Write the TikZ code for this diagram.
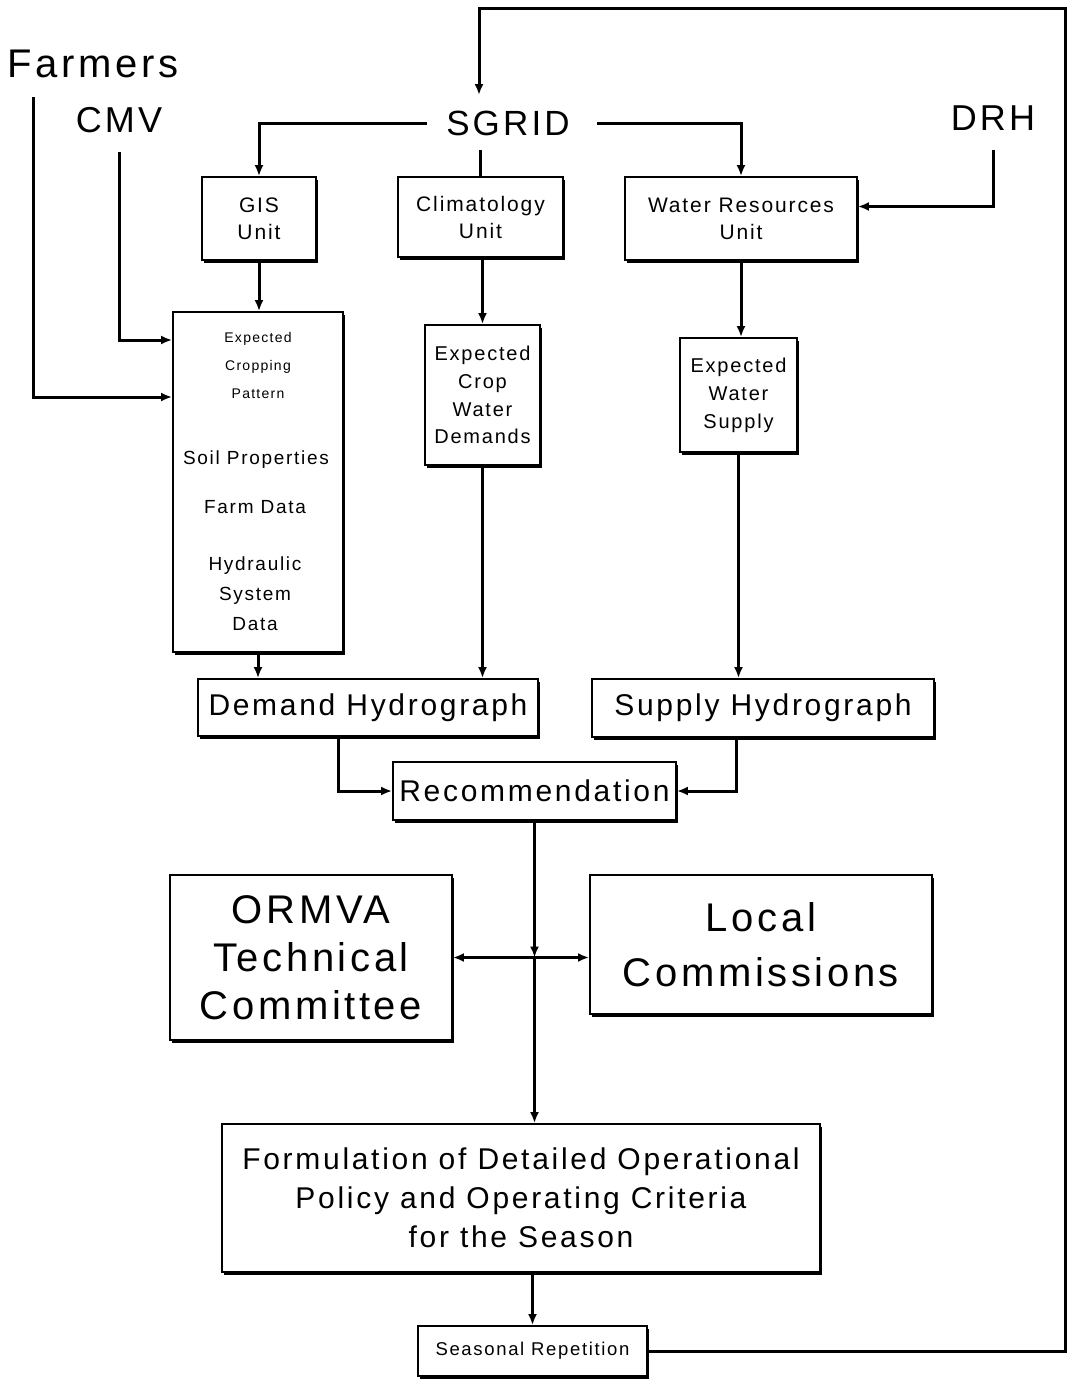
\documentclass[tikz,border=0pt]{standalone}
\usepackage{fontspec}
\setmainfont{Liberation Sans}[LetterSpace=9]
\usetikzlibrary{arrows.meta,shadows,calc}
\tikzset{
  box/.style={draw, line width=1.8pt, fill=white, inner sep=0pt, align=center,
    drop shadow={shadow xshift=2pt, shadow yshift=-2.5pt, opacity=1, fill=black}},
  arr/.style={line width=3pt, -{Latex[length=11pt,width=9pt]}},
  ln/.style={line width=3pt},
  lbl/.style={inner sep=0pt, anchor=base},
  txt/.style={inner sep=0pt, align=center},
}
\newcommand{\fs}[2]{\fontsize{#1}{#2}\selectfont}
\begin{document}
\begin{tikzpicture}[x=1pt,y=-1pt]
\useasboundingbox (0,0) rectangle (1069,1379);
% free labels
\node[lbl, font=\fs{40}{48}] (farmers) at (93,77) {Farmers};
\node[lbl, font=\fs{36}{44}] (cmv) at (119,132) {CMV};
\node[lbl, font=\fs{35}{44}] (sgrid) at (508,135) {SGRID};
\node[lbl, font=\fs{36}{44}] (drh) at (993,130) {DRH};
% boxes
\node[box, minimum width=114pt, minimum height=83pt, font=\fs{21}{27}] (gis) at (259,218.5) {GIS\\Unit};
\node[box, minimum width=165pt, minimum height=80pt, font=\fs{21}{27}] (clim) at (480.5,217) {Climatology\\Unit};
\node[box, minimum width=232pt, minimum height=83pt, font=\fs{21}{27}] (wru) at (741,218.5) {Water Resources\\Unit};
\node[box, minimum width=170pt, minimum height=340pt] (ecp) at (258,482) {};
\node[txt, font=\fs{14}{28}] (ecpt) at (258,365) {Expected\\Cropping\\Pattern};
\node[txt, font=\fs{19}{24}] (soil) at (256,460) {Soil Properties};
\node[txt, font=\fs{19}{24}] (farm) at (255,507) {Farm Data};
\node[txt, font=\fs{19}{30}] (hyd) at (255,594) {Hydraulic\\System\\Data};
\node[box, minimum width=115pt, minimum height=140pt, font=\fs{20}{27.7}] (ecwd) at (482.5,395) {Expected\\Crop\\Water\\Demands};
\node[box, minimum width=117pt, minimum height=114pt, font=\fs{20}{28}] (ews) at (738.5,395) {Expected\\Water\\Supply};
\node[box, minimum width=340pt, minimum height=57pt, font=\fs{30}{36}] (dh) at (368,707.5) {Demand Hydrograph};
\node[box, minimum width=342pt, minimum height=58pt, font=\fs{30}{36}] (sh) at (763,708) {Supply Hydrograph};
\node[box, minimum width=283pt, minimum height=58pt, font=\fs{30}{36}] (rec) at (534.5,791) {Recommendation};
\node[box, minimum width=282pt, minimum height=165pt, font=\fs{40}{48}] (ormva) at (311,957.5) {ORMVA\\Technical\\Committee};
\node[box, minimum width=342pt, minimum height=139pt, font=\fs{40}{55}] (local) at (761,944.5) {Local\\Commissions};
\node[box, minimum width=598pt, minimum height=148pt, font=\fs{30}{39}] (form) at (521,1198) {Formulation of Detailed Operational\\Policy and Operating Criteria\\for the Season};
\node[box, minimum width=229pt, minimum height=50pt, font=\fs{18.5}{22}] (seas) at (532.5,1351) {Seasonal Repetition};
% connectors
\coordinate (tr) at (1065,8);
\draw[arr] (seas.east) -| (tr) -| ($(sgrid.base)+(-29,-40)$);
\draw[arr] ($(sgrid.base)+(-81,-12)$) -| (gis.north);
\draw[arr] ($(sgrid.base)+(89,-12)$) -| (wru.north);
\coordinate (sgd) at ($(sgrid.base)+(0,15)$);
\draw[ln] (clim.north |- sgd) -- (clim.north);
\draw[arr] ($(farmers.base)+(-60,20)$) |- ($(ecp.west)+(0,-85)$);
\draw[arr] ($(cmv.base)+(0,20)$) |- ($(ecp.west)+(0,-142)$);
\draw[arr] ($(drh.base)+(0,20)$) |- ($(wru.east)+(0,-12)$);
\draw[arr] (gis.south) -- (gis.south |- ecp.north);
\draw[arr] (ecwd.north |- clim.south) -- (ecwd.north);
\draw[arr] (wru.south) -- (wru.south |- ews.north);
\draw[arr] (ecp.south) -- (ecp.south |- dh.north);
\draw[arr] (ecwd.south) -- (ecwd.south |- dh.north);
\draw[arr] (ews.south) -- (ews.south |- sh.north);
\draw[arr] ($(dh.south)+(-30,0)$) |- (rec.west);
\draw[arr] ($(sh.south)+(-27,0)$) |- (rec.east);
\coordinate (J) at (rec.south |- ormva.east);
\draw[arr] (rec.south) -- (J);
\draw[arr] (J) -- (ormva.east);
\draw[arr] (J) -- (local.west |- J);
\draw[arr] (J) -- (form.north -| J);
\draw[arr] (form.south -| seas.north) -- (seas.north);
\end{tikzpicture}
\end{document}
